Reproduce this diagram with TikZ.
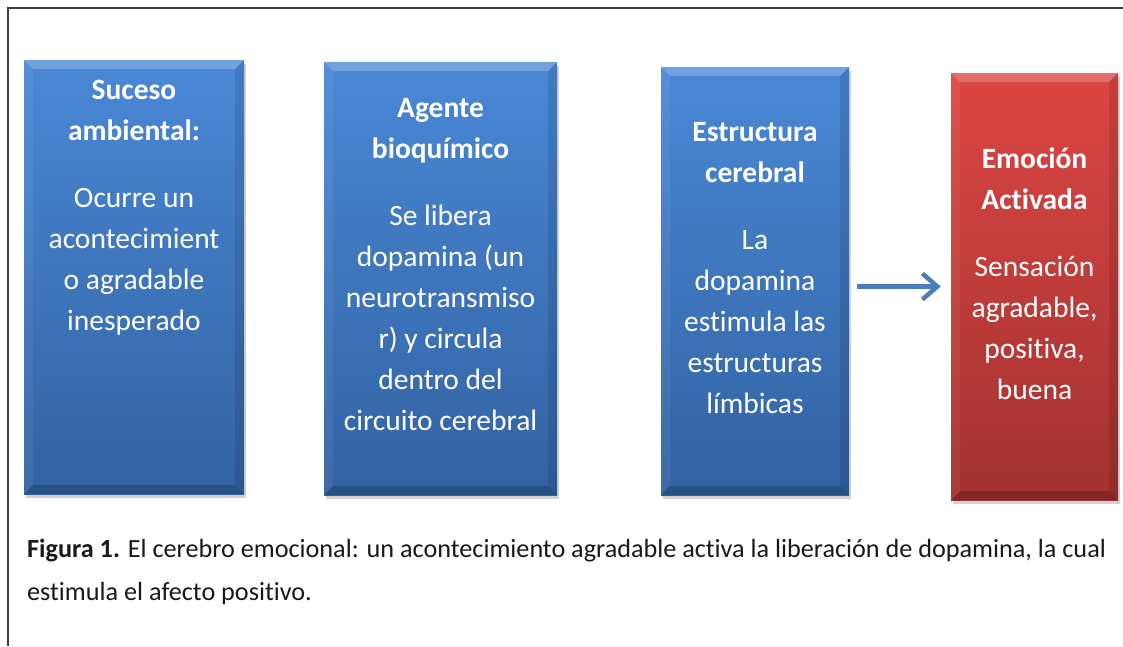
\documentclass[tikz,border=0pt]{standalone}
\usepackage{fontspec}
\setmainfont{Carlito}[Ligatures={NoCommon}]
\usetikzlibrary{arrows.meta,shadows,positioning}
\definecolor{boxblueA}{HTML}{4A88D6}
\definecolor{boxblueB}{HTML}{3262A2}
\definecolor{boxredA}{HTML}{DC4643}
\definecolor{boxredB}{HTML}{A13230}
\definecolor{arrowblue}{HTML}{4A7EBF}
\definecolor{framegray}{HTML}{3C3C3C}
\tikzset{>=latex}
\tikzset{
  bevel/.style={path picture={
      \fill[white,opacity=.22] (path picture bounding box.north west) -- (path picture bounding box.north east)
        -- ([xshift=-9pt,yshift=-9pt]path picture bounding box.north east) -- ([xshift=9pt,yshift=-9pt]path picture bounding box.north west) -- cycle;
      \fill[black,opacity=.18] (path picture bounding box.south west) -- (path picture bounding box.south east)
        -- ([xshift=-9pt,yshift=9pt]path picture bounding box.south east) -- ([xshift=9pt,yshift=9pt]path picture bounding box.south west) -- cycle;
      \fill[black,opacity=.10] (path picture bounding box.north east) -- (path picture bounding box.south east)
        -- ([xshift=-9pt,yshift=9pt]path picture bounding box.south east) -- ([xshift=-9pt,yshift=-9pt]path picture bounding box.north east) -- cycle;
      \fill[white,opacity=.06] (path picture bounding box.north west) -- (path picture bounding box.south west)
        -- ([xshift=9pt,yshift=9pt]path picture bounding box.south west) -- ([xshift=9pt,yshift=-9pt]path picture bounding box.north west) -- cycle;
    }},
  bluebox/.style={rectangle, inner sep=0pt, top color=boxblueA, bottom color=boxblueB, bevel,
    drop shadow={shadow xshift=2pt, shadow yshift=-4pt, opacity=.35}},
  redbox/.style={rectangle, inner sep=0pt, top color=boxredA, bottom color=boxredB, bevel,
    drop shadow={shadow xshift=2pt, shadow yshift=-4pt, opacity=.35}},
  boxtext/.style={text=white, align=center, inner sep=0pt, font=\fontsize{29.5}{41}\selectfont},
  caption/.style={text=black!90, align=left, anchor=north west, inner sep=0pt, font=\fontsize{26.2}{40}\selectfont}
}
\begin{document}
\begin{tikzpicture}[x=1pt,y=-1pt]
    \useasboundingbox (0,0) rectangle (1123,646);
    \fill[white] (0,0) rectangle (1123,646);
    % frame
    \coordinate (fr0) at (8,646);
    \coordinate (fr1) at (8,8);
    \coordinate (fr2) at (1123,8);
    \draw[framegray, line width=1.6pt] (fr0) -- (fr1) -- (fr2);

    % boxes
    \node[bluebox, minimum width=220pt, minimum height=434pt] (suceso) at (134,277) {};
    \node[bluebox, minimum width=233pt, minimum height=433pt] (agente) at (440.5,278.5) {};
    \node[bluebox, minimum width=188pt, minimum height=428pt] (estructura) at (755,281) {};
    \node[redbox, minimum width=167pt, minimum height=427pt] (emocion) at (1034.5,286.5) {};

    \node[boxtext, below=20pt of suceso.north] (t1)
        {\textbf{Suceso}\\\textbf{ambiental:}\\[26pt]Ocurre un\\acontecimient\\o agradable\\inesperado};
    \node[boxtext, below=36.5pt of agente.north] (t2)
        {\textbf{Agente}\\\textbf{bioquímico}\\[26pt]Se libera\\dopamina (un\\neurotransmiso\\r) y circula\\dentro del\\circuito cerebral};
    \node[boxtext, below=55.5pt of estructura.north] (t3)
        {\textbf{Estructura}\\\textbf{cerebral}\\[26pt]La\\dopamina\\estimula las\\estructuras\\límbicas};
    \node[boxtext, below=74.5pt of emocion.north] (t4)
        {\textbf{Emoción}\\\textbf{Activada}\\[26pt]Sensación\\agradable,\\positiva,\\buena};

    \draw[-{Straight Barb[length=15pt,width=26pt,line width=4.5pt]}, arrowblue, line width=5pt,
          shorten <=8pt, shorten >=10pt] (estructura.east |- emocion.west) -- (emocion.west);

    \node[caption] (cap) at (27,539)
        {\textbf{Figura 1.} El cerebro emocional: un acontecimiento agradable activa la liberación de dopamina, la cual\\[3pt]estimula el afecto positivo.};
\end{tikzpicture}
\end{document}
